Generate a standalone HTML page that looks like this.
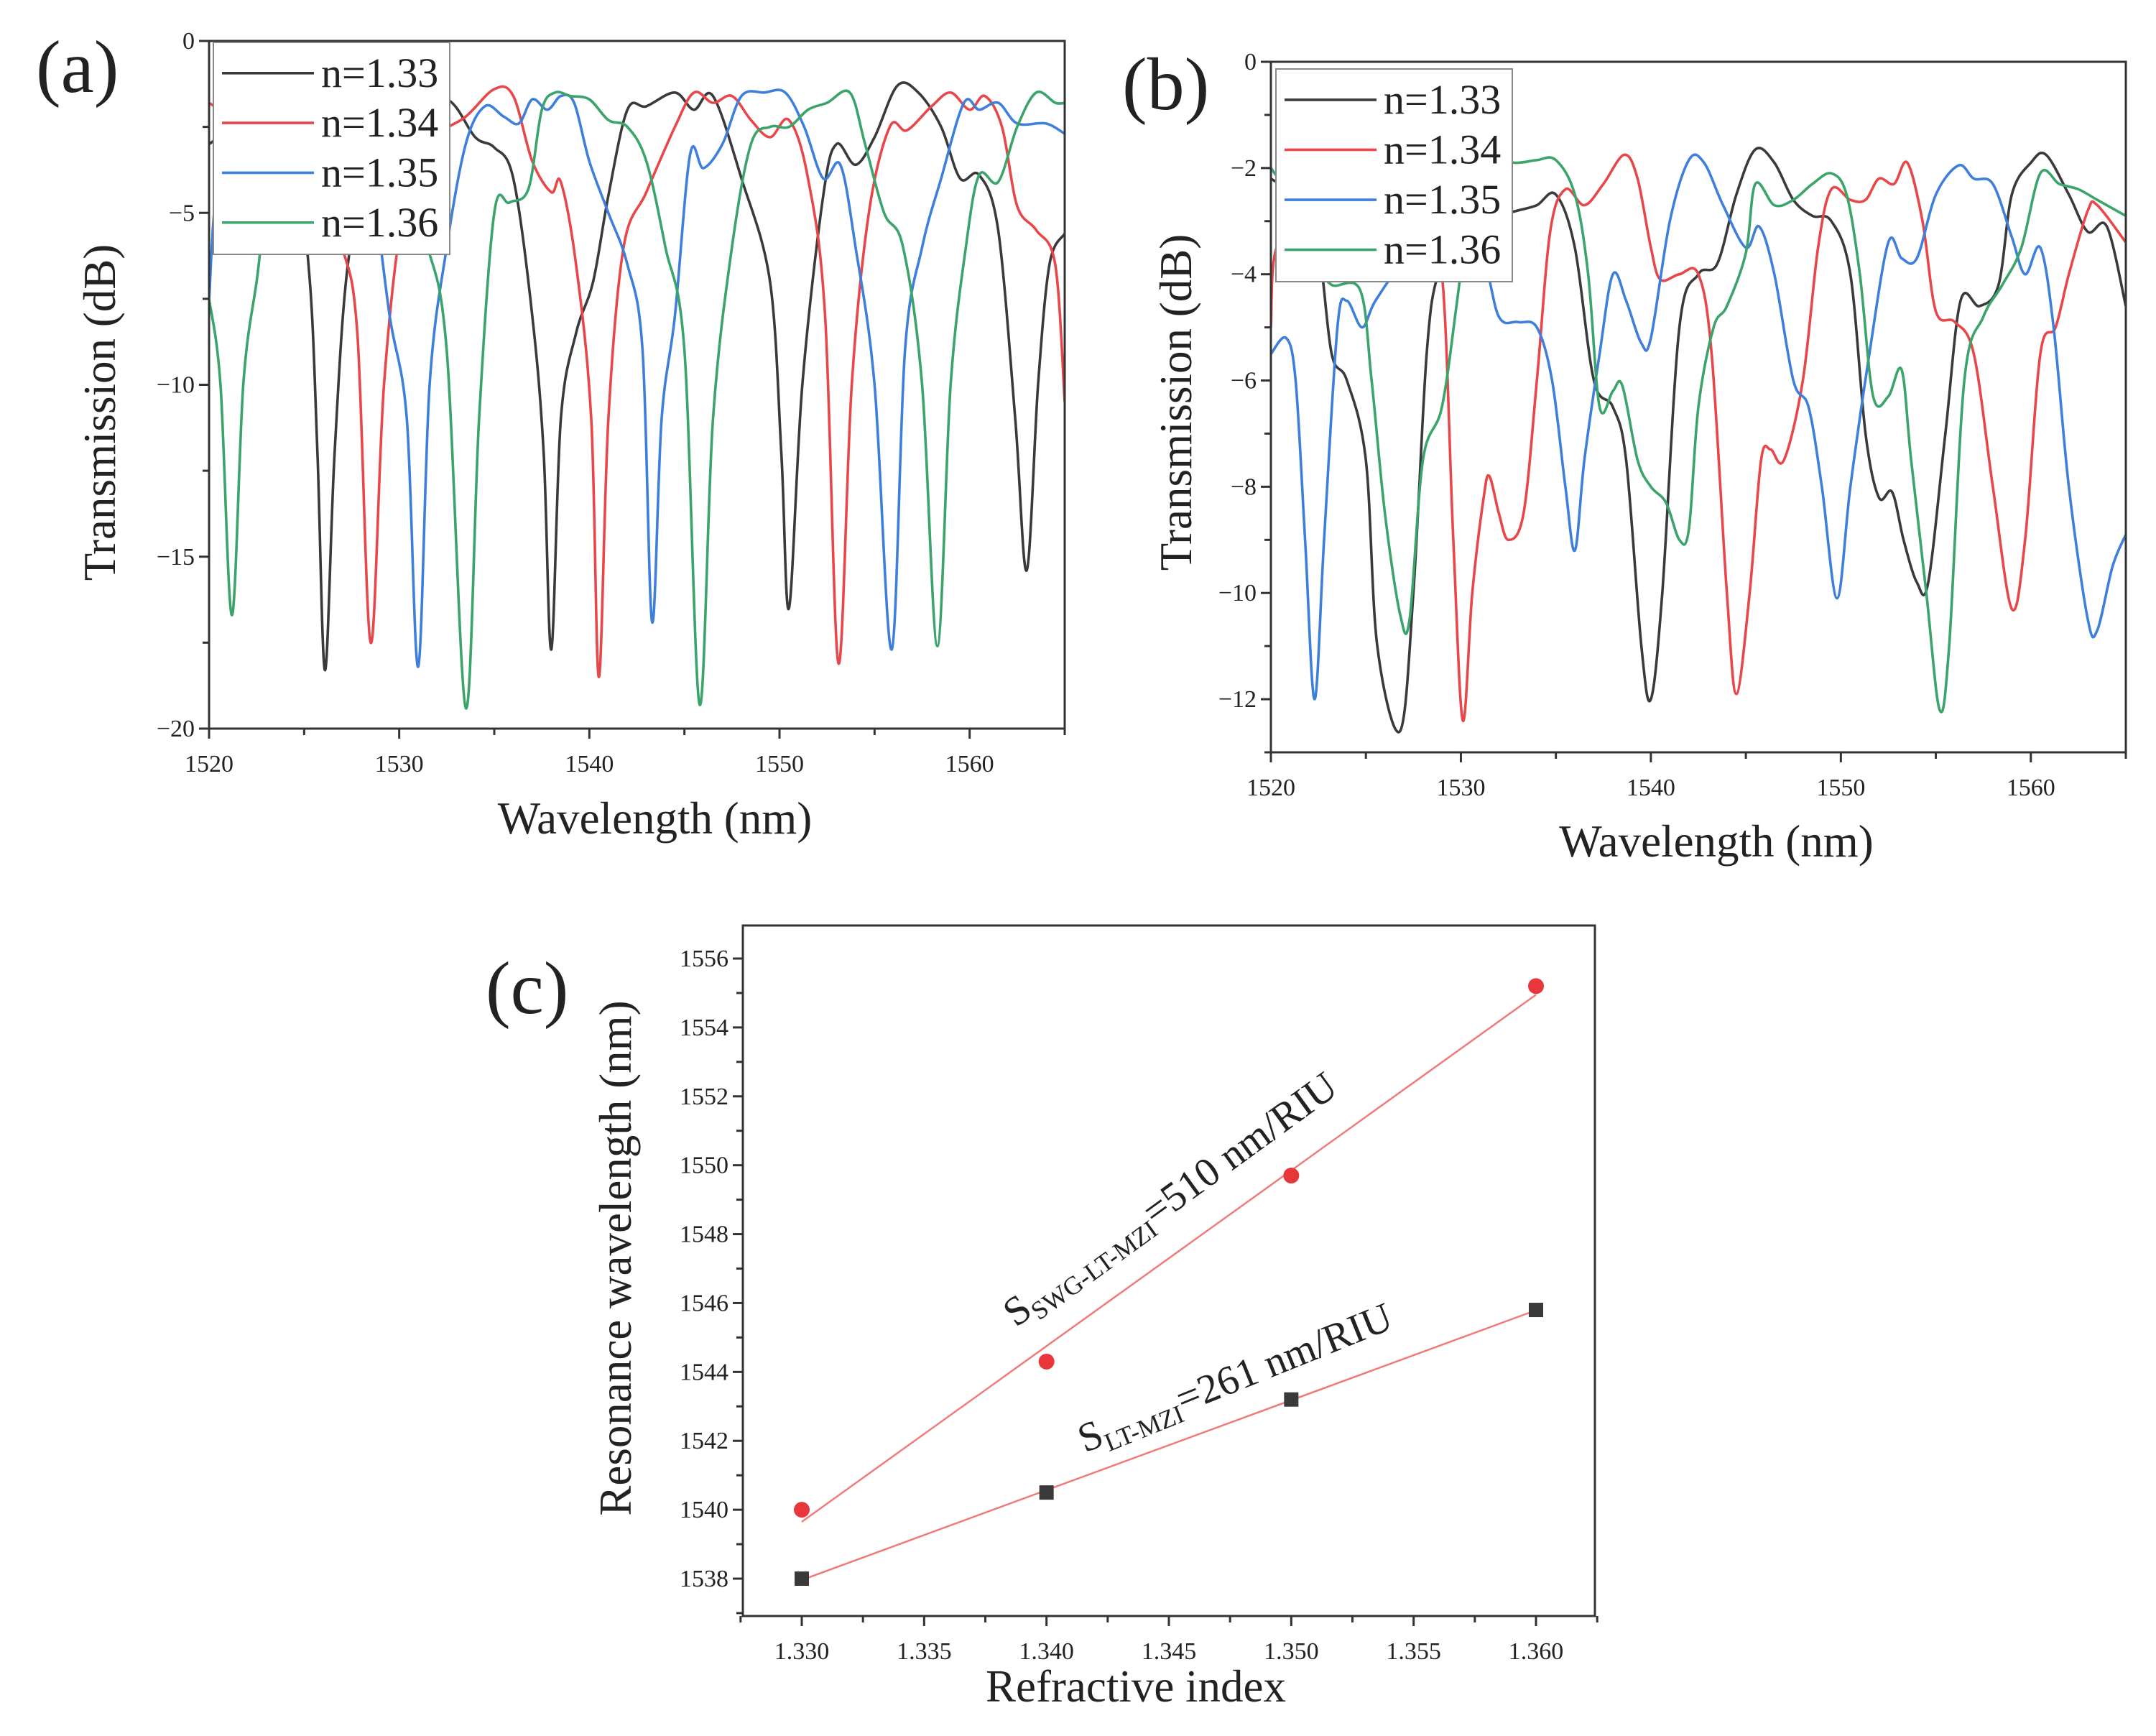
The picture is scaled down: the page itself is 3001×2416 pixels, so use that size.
<!DOCTYPE html>
<html><head><meta charset="utf-8"><style>
html,body{margin:0;padding:0;background:#fff}
svg{display:block}
text{font-family:"Liberation Serif",serif;fill:#222}
</style></head><body>
<svg id="fig" width="3001" height="2416" viewBox="0 0 3001 2416" xmlns="http://www.w3.org/2000/svg">
<defs>
<clipPath id="clipA"><rect x="291" y="57" width="1191" height="957"/></clipPath>
<clipPath id="clipB"><rect x="1769" y="86" width="1190" height="961"/></clipPath>
</defs>
<g id="panelA"></g>
<g id="panelB"></g>
<g id="panelC"></g>
</svg>
<script>
// ---------- data: panel (a) ----------
const a133 = [[1520,-3],[1523,-2],[1524.5,-3.5],[1525.3,-7],[1525.7,-12],[1526.1,-18.3],[1526.6,-12],[1527.3,-6.5],[1528.5,-3.5],[1530.5,-2.2],[1532.5,-1.7],[1534,-2.8],[1535,-3.1],[1536,-4],[1537,-8],[1537.6,-12],[1538,-17.7],[1538.5,-11],[1539.3,-8.5],[1540.2,-7],[1541,-4.5],[1542,-2.0],[1543,-1.9],[1544.5,-1.5],[1545.5,-2.0],[1546.5,-1.6],[1548,-4],[1549.5,-7],[1550.1,-12],[1550.5,-16.5],[1551.2,-10],[1552.3,-4.5],[1553,-3.0],[1554,-3.6],[1555,-2.8],[1556.2,-1.3],[1557.3,-1.5],[1558.5,-2.5],[1559.5,-4.0],[1560.5,-3.9],[1561.5,-5.5],[1562.4,-11],[1563,-15.4],[1563.6,-10],[1564.2,-6.5],[1565,-5.6]];
const a134 = [[1520,-1.8],[1522,-2.5],[1524,-3],[1526,-4.5],[1527,-6],[1527.8,-8.5],[1528.5,-17.5],[1529.2,-10],[1530.2,-5],[1531.5,-3],[1533.5,-2.2],[1535,-1.4],[1536,-1.6],[1537,-3.5],[1538,-4.4],[1538.5,-4.1],[1539.3,-6.5],[1540.1,-11],[1540.5,-18.5],[1541,-11],[1541.8,-6],[1543,-4.4],[1544.5,-2.5],[1545.5,-1.5],[1546.5,-1.8],[1547.5,-1.6],[1548.5,-2.3],[1549.5,-2.8],[1550.5,-2.3],[1551.5,-4],[1552.4,-8],[1553.1,-18.1],[1553.8,-10],[1554.7,-5],[1555.8,-2.5],[1556.7,-2.6],[1558,-1.9],[1559,-1.5],[1560,-2.0],[1560.8,-1.6],[1561.7,-2.5],[1562.5,-4.8],[1563.5,-5.5],[1564.5,-6.5],[1565,-10.5]];
const a135 = [[1520,-7.5],[1520.5,-4],[1522,-2.5],[1524,-2],[1526,-2.5],[1527.5,-3],[1528.5,-4],[1529.5,-8],[1530.4,-11],[1531,-18.2],[1531.6,-10],[1532.5,-6],[1533.5,-3],[1534.5,-1.9],[1535.5,-2.2],[1536.3,-2.4],[1537,-1.7],[1537.8,-2.0],[1538.5,-1.6],[1539.2,-1.8],[1540,-3.5],[1541,-5],[1542,-6.5],[1542.8,-9],[1543.3,-16.9],[1543.8,-11],[1544.5,-8],[1545.3,-3.3],[1546,-3.7],[1547,-3],[1548,-1.6],[1549.2,-1.5],[1550.3,-1.5],[1551.3,-2.5],[1552.3,-4],[1553.2,-3.6],[1554,-6],[1555,-10],[1555.9,-17.7],[1556.6,-9],[1557.5,-6],[1558.5,-4],[1559.7,-1.8],[1560.5,-2.0],[1561.5,-1.8],[1562.5,-2.4],[1564,-2.4],[1565,-2.7]];
const a136 = [[1520,-7.5],[1520.6,-10],[1521.2,-16.7],[1521.8,-10],[1522.5,-7],[1523.2,-4.5],[1525,-3],[1527,-2.5],[1529,-3],[1530.5,-4.5],[1531.5,-6],[1532.5,-9],[1533.5,-19.4],[1534.2,-11],[1535,-5],[1535.8,-4.7],[1536.8,-4.3],[1537.5,-2],[1538.2,-1.5],[1539,-1.6],[1540,-1.7],[1541,-2.3],[1542,-2.5],[1543,-3.5],[1544,-6],[1545,-9],[1545.8,-19.3],[1546.5,-11],[1547.5,-6],[1548.5,-3],[1549.5,-2.5],[1550.5,-2.5],[1551.5,-2.0],[1552.5,-1.8],[1553.7,-1.5],[1554.5,-3],[1555.5,-5],[1556.5,-6],[1557.5,-10],[1558.3,-17.6],[1559,-10],[1559.8,-6],[1560.5,-3.9],[1561.5,-4.1],[1562.5,-2.5],[1563.5,-1.5],[1564.5,-1.8],[1565,-1.8]];
// ---------- data: panel (b) ----------
const b133 = [[1520,-2.2],[1521.5,-2.6],[1522.5,-3.5],[1523.2,-5.5],[1524,-6],[1525,-7.5],[1525.6,-11],[1526.8,-12.6],[1527.5,-10],[1528.2,-5.5],[1528.8,-4],[1530,-3.2],[1532,-2.9],[1533,-2.8],[1534,-2.7],[1535,-2.5],[1536,-3.5],[1537,-6],[1538,-6.5],[1538.7,-7.5],[1539.5,-11],[1540,-12],[1540.6,-10],[1541.5,-5],[1542.5,-4.0],[1543.5,-3.8],[1544.5,-2.5],[1545.5,-1.65],[1546.5,-1.9],[1547.5,-2.6],[1548.5,-2.9],[1549.5,-3.0],[1550.5,-4],[1551.3,-7],[1552,-8.2],[1552.7,-8.1],[1553.3,-9],[1554,-9.8],[1554.6,-9.8],[1555.5,-7],[1556.3,-4.5],[1557.3,-4.6],[1558.3,-4.2],[1559,-2.5],[1560,-1.9],[1560.8,-1.75],[1562,-2.5],[1563,-3.2],[1564,-3.1],[1565,-4.6]];
const b134 = [[1520,-5],[1520.3,-3.5],[1522,-3],[1524,-3.2],[1526,-3.5],[1528,-3.8],[1529,-4],[1529.6,-9],[1530.1,-12.4],[1530.6,-10],[1531.2,-8.2],[1531.5,-7.8],[1532,-8.5],[1532.5,-9],[1533.3,-8.5],[1534,-6],[1534.7,-3.2],[1535.5,-2.4],[1536.5,-2.7],[1537.5,-2.3],[1538.6,-1.75],[1539.3,-2.2],[1540,-3.5],[1540.5,-4.1],[1541.5,-4.0],[1542.5,-4.0],[1543.2,-5.5],[1544,-10],[1544.5,-11.9],[1545.2,-10],[1545.8,-7.5],[1546.3,-7.3],[1547,-7.5],[1548,-6],[1548.8,-3.5],[1549.5,-2.4],[1550.5,-2.6],[1551.3,-2.6],[1552,-2.2],[1552.8,-2.3],[1553.5,-1.9],[1554.3,-3],[1555,-4.7],[1556,-4.9],[1557,-5.5],[1558,-8],[1559,-10.3],[1559.7,-9],[1560.5,-5.5],[1561.3,-5.0],[1562,-4],[1563,-2.8],[1563.5,-2.7],[1565,-3.4]];
const b135 = [[1520,-5.5],[1520.8,-5.2],[1521.3,-6],[1521.8,-9],[1522.3,-12],[1522.8,-9],[1523.5,-5],[1524,-4.5],[1524.8,-5.0],[1525.5,-4.5],[1527,-3.8],[1529,-3.5],[1531,-3.6],[1532,-4.8],[1533,-4.9],[1534,-5.0],[1534.8,-6],[1535.5,-8],[1536,-9.2],[1536.5,-7.5],[1537.3,-5.5],[1538,-4.0],[1538.7,-4.5],[1539.5,-5.3],[1540,-5.2],[1541,-3],[1542,-1.85],[1542.8,-1.9],[1543.8,-2.7],[1545,-3.5],[1545.7,-3.1],[1546.5,-4],[1547.5,-6],[1548.3,-6.5],[1549,-8],[1549.8,-10.1],[1550.5,-8],[1551.5,-5.5],[1552.5,-3.4],[1553.2,-3.7],[1554,-3.7],[1555,-2.5],[1556.2,-1.95],[1557,-2.2],[1558,-2.3],[1559,-3.3],[1559.7,-4.0],[1560.5,-3.5],[1561.2,-5],[1562,-8],[1563,-10.5],[1563.5,-10.7],[1564.3,-9.5],[1565,-8.9]];
const b136 = [[1520,-2.0],[1521.5,-2.8],[1522.5,-3.8],[1523.2,-4.2],[1524.7,-4.3],[1525.3,-6],[1526,-8.5],[1526.8,-10.4],[1527.3,-10.5],[1528,-7.5],[1529,-6.5],[1529.8,-4.5],[1530.5,-2.5],[1531,-1.9],[1533,-1.9],[1534,-1.85],[1535,-1.85],[1536,-2.5],[1536.7,-4],[1537.3,-6.5],[1538,-6.2],[1538.5,-6.1],[1539.3,-7.5],[1540,-8],[1540.8,-8.3],[1541.5,-9],[1542,-8.8],[1542.5,-6.5],[1543.3,-5],[1544,-4.6],[1545,-3.6],[1545.5,-2.3],[1546.5,-2.7],[1547.5,-2.6],[1548.5,-2.3],[1549.5,-2.1],[1550.3,-2.5],[1551,-4],[1551.7,-6.3],[1552.5,-6.3],[1553.2,-5.8],[1553.7,-7.5],[1554.5,-10],[1555.2,-12.2],[1555.7,-11],[1556.5,-6],[1557.5,-4.8],[1558.5,-4.2],[1559.5,-3.5],[1560.5,-2.1],[1561.5,-2.3],[1562.5,-2.4],[1563.5,-2.6],[1565,-2.9]];
const legendLabels = ["n=1.33","n=1.34","n=1.35","n=1.36"];
const xTicksAB = [1520,1530,1540,1550,1560];
const yTicksA = [0,-5,-10,-15,-20];
const yTicksB = [0,-2,-4,-6,-8,-10,-12];
// ---------- data: panel (c) ----------
const cIndex = [1.330,1.340,1.350,1.360];
const cSWG = [1540.0,1544.3,1549.7,1555.2];
const cLT = [1538.0,1540.5,1543.2,1545.8];
const xTicksC = ["1.330","1.335","1.340","1.345","1.350","1.355","1.360"];
const yTicksC = [1538,1540,1542,1544,1546,1548,1550,1552,1554,1556];

const NS="http://www.w3.org/2000/svg";
const COLORS=["#3a3a3a","#e8474a","#3f7fdc","#3aa46a"];
function mk(tag,attrs,parent){const e=document.createElementNS(NS,tag);for(const k in attrs)e.setAttribute(k,attrs[k]);parent.appendChild(e);return e;}
function smooth(pts){let d="M"+pts[0][0].toFixed(1)+","+pts[0][1].toFixed(1);
 for(let i=0;i<pts.length-1;i++){const p0=pts[Math.max(0,i-1)],p1=pts[i],p2=pts[i+1],p3=pts[Math.min(pts.length-1,i+2)];
  const c1=[p1[0]+(p2[0]-p0[0])/6,p1[1]+(p2[1]-p0[1])/6],c2=[p2[0]-(p3[0]-p1[0])/6,p2[1]-(p3[1]-p1[1])/6];
  d+=" C"+c1[0].toFixed(1)+","+c1[1].toFixed(1)+" "+c2[0].toFixed(1)+","+c2[1].toFixed(1)+" "+p2[0].toFixed(1)+","+p2[1].toFixed(1);}
 return d;}

function spectrumPanel(g,cfg){
 const {L,R,T,B,ymin,ymax,yTicks,yMinorStep,series,clip,leg,lab,ylabX,ylabY,xlabY}=cfg;
 const sx=v=>L+(v-1520)/(1565-1520)*(R-L);
 const sy=v=>T+(ymax-v)/(ymax-ymin)*(B-T);
 const curves=mk('g',{'clip-path':'url(#'+clip+')'},g);
 
 
 series.forEach((s,i)=>{const p=mk('path',{d:smooth(s.map(q=>[sx(q[0]),sy(q[1])])),fill:'none',stroke:COLORS[i],'stroke-width':3.6,'stroke-linejoin':'round'},curves);
  
  });
 const frame=mk('rect',{x:L,y:T,width:R-L,height:B-T,fill:'none',stroke:'#333','stroke-width':3},g);
 
 
 for(let v=1520;v<=1565;v+=5){const x=sx(v);mk('line',{x1:x,x2:x,y1:B,y2:B+(v%10===0?14:9),stroke:'#333','stroke-width':3},g);}
 xTicksAB.forEach(v=>{const t=mk('text',{x:sx(v),y:B+60,'font-size':34,'text-anchor':'middle'},g);t.textContent=v;
  
  });
 for(let v=ymax;v>=ymin-1e-9;v-=yMinorStep){const y=sy(v);const major=yTicks.some(q=>Math.abs(q-v)<1e-6);mk('line',{x1:L,x2:L-(major?14:9),y1:y,y2:y,stroke:'#333','stroke-width':3},g);}
 yTicks.forEach(v=>{const t=mk('text',{x:L-20,y:sy(v)+11,'font-size':34,'text-anchor':'end'},g);t.textContent=(v<0?'\u2212'+(-v):v);
  
  });
 const yl=mk('text',{x:ylabX,y:ylabY,'font-size':63,'text-anchor':'middle',transform:'rotate(-90 '+ylabX+' '+ylabY+')'},g);yl.textContent='Transmission (dB)';
 
 
 const xl=mk('text',{x:(L+R)/2+25,y:xlabY,'font-size':63,'text-anchor':'middle'},g);xl.textContent='Wavelength (nm)';
 
 
 const lg=mk('g',{},g);
 
 
 mk('rect',{x:leg.x,y:leg.y,width:leg.w,height:leg.h,fill:'#fff',stroke:'#888','stroke-width':2},lg);
 legendLabels.forEach((s,i)=>{const y=leg.y+leg.h*(0.145+i*0.235);
  const e=mk('g',{},lg);
  
  
  mk('line',{x1:leg.x+12,x2:leg.x+140,y1:y,y2:y,stroke:COLORS[i],'stroke-width':3.6},e);
  const t=mk('text',{x:leg.x+150,y:y+19,'font-size':58},e);t.textContent=s;});
 const pl=mk('text',{x:lab[0],y:lab[1],'font-size':104},g);pl.textContent=lab[2];
 
 
}
spectrumPanel(document.getElementById('panelA'),{L:291,R:1482,T:57,B:1014,ymin:-20,ymax:0,yTicks:yTicksA,yMinorStep:2.5,series:[a133,a134,a135,a136],clip:'clipA',
 leg:{x:297,y:59,w:329,h:295},lab:[50,128,'(a)'],ylabX:160,ylabY:574,xlabY:1160});
spectrumPanel(document.getElementById('panelB'),{L:1769,R:2959,T:86,B:1047,ymin:-13,ymax:0,yTicks:yTicksB,yMinorStep:1,series:[b133,b134,b135,b136],clip:'clipB',
 leg:{x:1776,y:96,w:329,h:296},lab:[1562,152,'(b)'],ylabX:1658,ylabY:560,xlabY:1192});

// panel C
(function(){
 const g=document.getElementById('panelC');
 const L=1034,R=2220,T=1288,B=2249;
 const sx=v=>1116+(v-1.330)/0.030*(2138-1116);
 const sy=v=>2197-(v-1538)/18*(2197-1334);
 function fit(xs,ys){const n=xs.length,mx=xs.reduce((a,b)=>a+b)/n,my=ys.reduce((a,b)=>a+b)/n;let num=0,den=0;xs.forEach((x,i)=>{num+=(x-mx)*(ys[i]-my);den+=(x-mx)*(x-mx);});const k=num/den;return [k,my-k*mx];}
 const frame=mk('rect',{x:L,y:T,width:R-L,height:B-T,fill:'none',stroke:'#333','stroke-width':3},g);
 
 
 for(let v=1.3275;v<=1.3626;v+=0.0025){const x=sx(v);const major=Math.abs(Math.round(v*1000)/1000-v)<1e-6&&Math.round(v*1000)%5===0;mk('line',{x1:x,x2:x,y1:B,y2:B+(major?14:9),stroke:'#333','stroke-width':3},g);}
 xTicksC.forEach(s=>{const t=mk('text',{x:sx(parseFloat(s)),y:B+60,'font-size':34,'text-anchor':'middle'},g);t.textContent=s;
  
  });
 for(let v=1537;v<=1557;v+=1){const y=sy(v);if(y<T||y>B)continue;mk('line',{x1:L,x2:L-(v%2===0?14:9),y1:y,y2:y,stroke:'#333','stroke-width':3},g);}
 yTicksC.forEach(v=>{const t=mk('text',{x:L-20,y:sy(v)+11,'font-size':34,'text-anchor':'end'},g);t.textContent=v;
  
  });
 [[cSWG,'swg'],[cLT,'lt']].forEach(([ys,nm])=>{const [k,b]=fit(cIndex,ys);
  const ln=mk('line',{x1:sx(1.330),y1:sy(k*1.330+b),x2:sx(1.360),y2:sy(k*1.360+b),stroke:'#f07a7a','stroke-width':2.5},g);
  
  });
 cIndex.forEach((x,i)=>{const c=mk('circle',{cx:sx(x),cy:sy(cSWG[i]),r:11,fill:'#e8373a'},g);
  
  
  const r=mk('rect',{x:sx(x)-10,y:sy(cLT[i])-10,width:20,height:20,fill:'#3a3a3a'},g);
  
  });
 const a1=mk('text',{x:1414,y:1848,'font-size':57,transform:'rotate(-36 1414 1848)'},g);
 a1.innerHTML='S<tspan font-size="36" dy="11">SWG-LT-MZI</tspan><tspan dy="-11">=510 nm/RIU</tspan>';
 
 
 const a2=mk('text',{x:1510,y:2022,'font-size':57,transform:'rotate(-22 1510 2022)'},g);
 a2.innerHTML='S<tspan font-size="36" dy="11">LT-MZI</tspan><tspan dy="-11">=261 nm/RIU</tspan>';
 
 
 const yl=mk('text',{x:878,y:1751,'font-size':63,'text-anchor':'middle',transform:'rotate(-90 878 1751)'},g);yl.textContent='Resonance wavelength (nm)';
 
 
 const xl=mk('text',{x:1581,y:2368,'font-size':63,'text-anchor':'middle'},g);xl.textContent='Refractive index';
 
 
 const pl=mk('text',{x:676,y:1410,'font-size':104},g);pl.textContent='(c)';
 
 
})();
</script>
</body></html>
